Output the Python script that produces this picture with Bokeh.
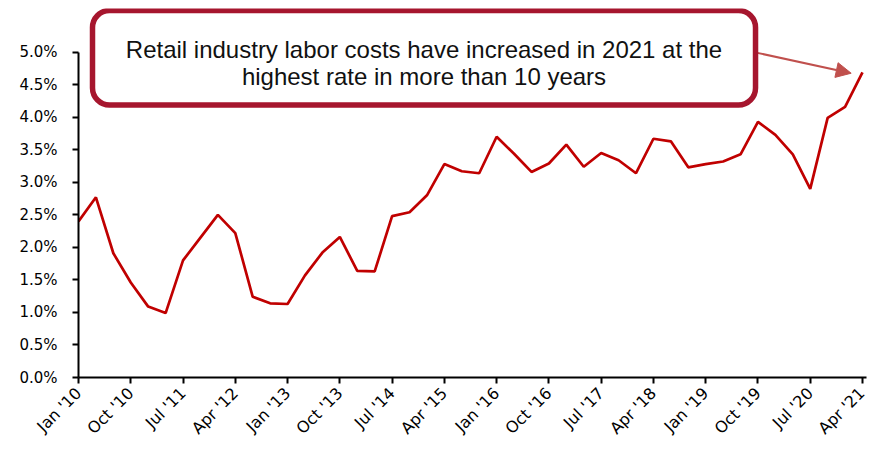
from bokeh.plotting import figure
from bokeh.models import (FixedTicker, SingleIntervalTicker, PrintfTickFormatter, BoxAnnotation,
                          Label, Arrow, NormalHead, ColumnDataSource)
from bokeh.embed import file_html
from bokeh.resources import INLINE
import math

# Quarterly retail labor cost growth (%), Jan '10 .. Apr '21
values = [2.40, 2.77, 1.91, 1.46, 1.09, 0.99, 1.80, 2.15, 2.50, 2.22,
          1.24, 1.14, 1.13, 1.57, 1.92, 2.16, 1.64, 1.63, 2.48, 2.54,
          2.80, 3.28, 3.17, 3.14, 3.70, 3.44, 3.16, 3.29, 3.58, 3.24,
          3.45, 3.34, 3.14, 3.67, 3.63, 3.23, 3.28, 3.32, 3.43, 3.93,
          3.73, 3.43, 2.90, 3.99, 4.16, 4.69]
quarter_index = list(range(len(values)))

tick_labels = ["Jan '10", "Oct '10", "Jul '11", "Apr '12", "Jan '13", "Oct '13",
               "Jul '14", "Apr '15", "Jan '16", "Oct '16", "Jul '17", "Apr '18",
               "Jan '19", "Oct '19", "Jul '20", "Apr '21"]
tick_positions = [3 * i for i in range(len(tick_labels))]

annotation_lines = ["Retail industry labor costs have increased in 2021 at the",
                    "highest rate in more than 10 years"]

LINE_COLOR = "#C00000"
BOX_COLOR = "#A6162E"
ARROW_COLOR = "#C0504D"
TICK_FONT = "DejaVu Sans"

p = figure(frame_width=788, frame_height=369, output_backend="svg", toolbar_location=None,
           x_range=(0, 45.23), y_range=(0, 5.672),
           min_border_left=78, min_border_right=2, min_border_top=8, min_border_bottom=60)
p.outline_line_color = None
p.background_fill_color = "white"
p.border_fill_color = "white"
p.xgrid.visible = False
p.ygrid.visible = False

src = ColumnDataSource(dict(x=quarter_index, y=values))
p.line("x", "y", source=src, line_color=LINE_COLOR, line_width=2.7)

# axes
p.xaxis.ticker = FixedTicker(ticks=tick_positions)
p.xaxis.major_label_overrides = {t: l for t, l in zip(tick_positions, tick_labels)}
p.xaxis.major_label_orientation = math.pi / 4
p.xaxis.minor_tick_line_color = None
p.yaxis.ticker = SingleIntervalTicker(interval=0.5)
p.yaxis.formatter = PrintfTickFormatter(format="%.1f%%")
p.yaxis.bounds = (0, 5)
p.yaxis.minor_tick_line_color = None
for ax in (p.xaxis[0], p.yaxis[0]):
    ax.axis_line_color = "black"
    ax.axis_line_width = 2
    ax.major_tick_line_color = "black"
    ax.major_tick_line_width = 2
    ax.major_tick_in = 0
    ax.major_tick_out = 6
    ax.major_label_text_font = TICK_FONT
    ax.major_label_text_color = "#000000"
p.yaxis.major_label_text_font_size = "15px"
p.xaxis.major_label_text_font_size = "16px"
p.yaxis.major_label_standoff = 15
p.xaxis.major_label_standoff = 7

# annotation box
p.add_layout(BoxAnnotation(left=0.804, right=38.86, top=5.642, bottom=4.188,
                           fill_color="white", fill_alpha=1.0,
                           line_color=BOX_COLOR, line_alpha=1.0, line_width=5.5, border_radius=17,
                           level="overlay"))
for txt, yy in zip(annotation_lines, [5.037, 4.626]):
    p.add_layout(Label(x=19.83, y=yy, text=txt, text_align="center", text_baseline="alphabetic",
                       text_font="Liberation Sans", text_font_size="24px", text_color="#111111",
                       level="overlay"))

p.add_layout(Arrow(x_start=38.96, y_start=4.99, x_end=44.35, y_end=4.677,
                   line_color=ARROW_COLOR, line_width=2,
                   end=NormalHead(size=15, fill_color=ARROW_COLOR, line_color=ARROW_COLOR)))

open("out.html", "w").write(file_html(p, INLINE))
